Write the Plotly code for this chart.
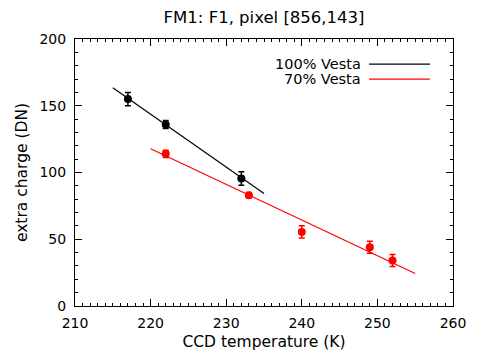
import plotly.graph_objects as go

# --- data ---
temp_100 = [217, 222, 232]
charge_100 = [155, 136, 95.5]
err_100 = [5, 3, 5]

temp_70 = [222, 233, 240, 249, 252]
charge_70 = [114, 83, 55.5, 44, 34]
err_70 = [2.7, 2, 4.6, 4.5, 4.5]

fit_x_100 = [215, 235]
fit_y_100 = [163.5, 84.3]
fit_x_70 = [220, 255]
fit_y_70 = [117.8, 24.4]

legend_labels = ["100% Vesta", "70% Vesta"]
colors = ["black", "#ff0000"]

FONT = "DejaVu Sans"

fig = go.Figure()

fig.add_trace(go.Scatter(x=fit_x_100, y=fit_y_100, mode="lines",
                         line=dict(color=colors[0], width=1.2), showlegend=False))
fig.add_trace(go.Scatter(x=fit_x_70, y=fit_y_70, mode="lines",
                         line=dict(color=colors[1], width=1.2), showlegend=False))
fig.add_trace(go.Scatter(x=temp_100, y=charge_100, mode="markers",
                         marker=dict(color=colors[0], size=8),
                         error_y=dict(type="data", array=err_100, color=colors[0],
                                      thickness=1.5, width=3),
                         showlegend=False))
fig.add_trace(go.Scatter(x=temp_70, y=charge_70, mode="markers",
                         marker=dict(color=colors[1], size=8),
                         error_y=dict(type="data", array=err_70, color=colors[1],
                                      thickness=1.5, width=3),
                         showlegend=False))

axis_common = dict(
    showgrid=False, zeroline=False, showline=True, linecolor="black", linewidth=1,
    mirror="ticks", ticks="inside", tickcolor="black", ticklen=7, tickwidth=1,
    tickfont=dict(family=FONT, size=14, color="black"), automargin=False,
)

fig.update_xaxes(range=[210, 260], dtick=10, tick0=210, ticklabelstandoff=4,
                 minor=dict(dtick=1, ticks="inside", ticklen=3, tickcolor="black"),
                 title=dict(text="CCD temperature (K)", font=dict(family=FONT, size=15.5, color="black"),
                            standoff=6),
                 **axis_common)
fig.update_yaxes(range=[0, 200], dtick=50, tick0=0, ticklabelstandoff=5,
                 minor=dict(dtick=10, ticks="inside", ticklen=3, tickcolor="black"),
                 title=dict(text="extra charge (DN)", font=dict(family=FONT, size=15.5, color="black"),
                            standoff=8),
                 **axis_common)

# legend: text on the left, line sample on the right
ys = [0.906, 0.850]
for lbl, col, yy in zip(legend_labels, colors, ys):
    fig.add_annotation(xref="paper", yref="paper", x=0.762, y=yy, text=lbl,
                       showarrow=False, xanchor="right", yanchor="middle",
                       font=dict(family=FONT, size=14.5, color="black"))
    fig.add_shape(type="line", xref="paper", yref="paper", x0=0.778, x1=0.939, y0=yy, y1=yy,
                  line=dict(color=col, width=1.2))

# the page body adds an 8 px margin, so the figure is sized to fit the window
fig.update_layout(
    width=469, height=352,
    margin=dict(l=67, r=24, t=31, b=54),
    paper_bgcolor="white", plot_bgcolor="white",
    title=dict(text="FM1: F1, pixel [856,143]", x=0.546, xanchor="center",
               y=0.975, yanchor="middle",
               font=dict(family=FONT, size=16.5, color="black")),
    showlegend=False,
)

fig.write_html("out.html")
